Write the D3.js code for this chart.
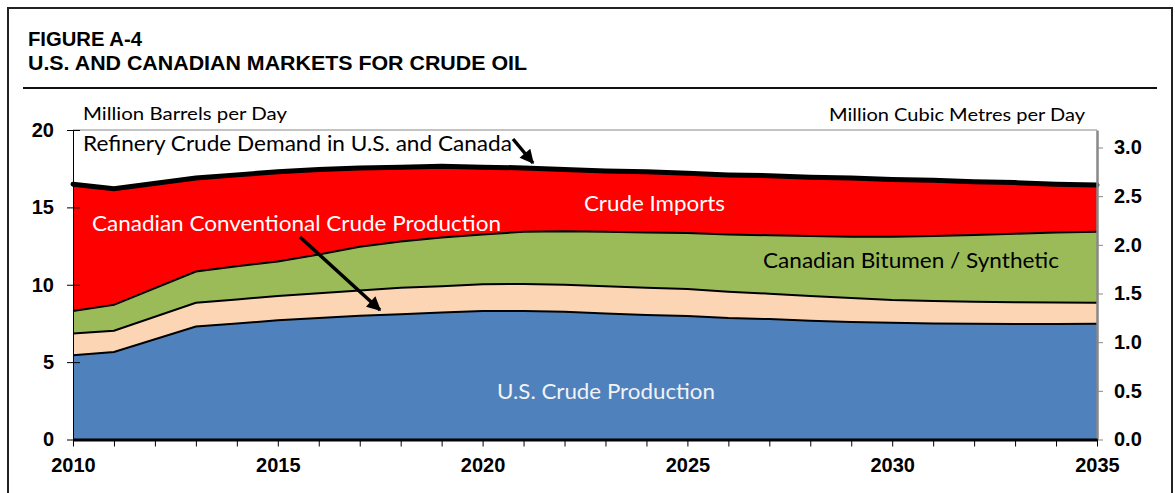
<!DOCTYPE html>
<html>
<head>
<meta charset="utf-8">
<script src="https://cdn.jsdelivr.net/npm/d3@7"></script>
<style>
  body { margin: 0; background: #fff; }
</style>
</head>
<body>
<div class="chart"></div>
<script>
// years shown in the figure (no 2012 point in the source)
const years = [2010, 2011, 2013, 2014, 2015, 2016, 2017, 2018, 2019, 2020, 2021, 2022,
  2023, 2024, 2025, 2026, 2027, 2028, 2029, 2030, 2031, 2032, 2033, 2034, 2035];

// million barrels per day
const usCrude = [5.45, 5.65, 7.3, 7.5, 7.7, 7.85, 8.0, 8.1, 8.2, 8.3, 8.3, 8.25,
  8.15, 8.05, 7.98, 7.85, 7.78, 7.68, 7.6, 7.55, 7.5, 7.48, 7.47, 7.46, 7.48];
const canConventional = [1.40, 1.38, 1.54, 1.55, 1.57, 1.60, 1.63, 1.70, 1.70, 1.73, 1.75, 1.75,
  1.75, 1.75, 1.74, 1.70, 1.64, 1.60, 1.55, 1.47, 1.45, 1.42, 1.40, 1.39, 1.36];
const canBitumen = [1.45, 1.67, 2.01, 2.15, 2.23, 2.50, 2.82, 3.00, 3.15, 3.22, 3.37, 3.45,
  3.52, 3.58, 3.63, 3.70, 3.78, 3.87, 3.95, 4.08, 4.20, 4.32, 4.43, 4.53, 4.59];
const crudeImports = [8.2, 7.5, 6.05, 5.9, 5.8, 5.5, 5.1, 4.8, 4.6, 4.35, 4.13, 4.0,
  3.93, 3.92, 3.85, 3.85, 3.85, 3.8, 3.8, 3.7, 3.6, 3.43, 3.3, 3.12, 3.02];
const refineryDemand = [16.5, 16.2, 16.9, 17.1, 17.3, 17.45, 17.55, 17.6, 17.65, 17.6, 17.55, 17.45,
  17.35, 17.3, 17.2, 17.1, 17.05, 16.95, 16.9, 16.8, 16.75, 16.65, 16.6, 16.5, 16.45];

const leftTicks = [0, 5, 10, 15, 20];
const rightTicks = [0.0, 0.5, 1.0, 1.5, 2.0, 2.5, 3.0];
const yearLabels = [2010, 2015, 2020, 2025, 2030, 2035];
const barrelsPerCubicMetre = 6.2898;

const keys = ["us", "conv", "bit", "imp"];
const fills = ["#4F81BD", "#FCD5B5", "#9BBB59", "#FF0000"];

const rows = years.map((yr, i) => ({
  year: yr,
  us: usCrude[i],
  conv: canConventional[i],
  bit: canBitumen[i],
  imp: crudeImports[i]
}));

const width = 1175, height = 493;
const svg = d3.select(".chart").append("svg")
  .attr("width", width)
  .attr("height", height);

// outer frame and title
svg.append("rect")
  .attr("x", 8).attr("y", 8)
  .attr("width", 1164).attr("height", 500)
  .attr("fill", "none").attr("stroke", "#222").attr("stroke-width", 2);

svg.append("text")
  .attr("x", 28).attr("y", 46)
  .attr("font-family", "Liberation Sans, Arial, sans-serif")
  .attr("font-weight", "bold").attr("font-size", "21px")
  .attr("textLength", 114).attr("lengthAdjust", "spacingAndGlyphs")
  .text("FIGURE A-4");
svg.append("text")
  .attr("x", 28).attr("y", 70)
  .attr("font-family", "Liberation Sans, Arial, sans-serif")
  .attr("font-weight", "bold").attr("font-size", "21px")
  .attr("textLength", 499).attr("lengthAdjust", "spacingAndGlyphs")
  .text("U.S. AND CANADIAN MARKETS FOR CRUDE OIL");

svg.append("line")
  .attr("x1", 23).attr("x2", 1157)
  .attr("y1", 88).attr("y2", 88)
  .attr("stroke", "#111").attr("stroke-width", 2);

// scales
const x = d3.scaleLinear().domain([2010, 2035]).range([73, 1097]);
const y = d3.scaleLinear().domain([0, 20]).range([439.5, 130]);
const y2 = d3.scaleLinear().domain([0, 20 / barrelsPerCubicMetre]).range([439.5, 130]);

const stacked = d3.stack().keys(keys)(rows);

const area = d3.area()
  .x(d => x(d.data.year))
  .y0(d => y(d[0]))
  .y1(d => y(d[1]));

const topLine = d3.line()
  .x(d => x(d.data.year))
  .y(d => y(d[1]));

const plot = svg.append("g");

plot.selectAll("path.layer")
  .data(stacked)
  .enter()
  .append("path")
  .attr("class", "layer")
  .attr("fill", (d, i) => fills[i])
  .attr("d", area);

// thin black boundaries between layers
plot.selectAll("path.edge")
  .data(stacked.slice(0, 3))
  .enter()
  .append("path")
  .attr("class", "edge")
  .attr("fill", "none")
  .attr("stroke", "#000")
  .attr("stroke-width", 2)
  .attr("d", topLine);

// refinery demand line
const demandLine = d3.line()
  .x((d, i) => x(years[i]))
  .y(d => y(d));

plot.append("path")
  .datum(refineryDemand)
  .attr("fill", "none")
  .attr("stroke", "#000")
  .attr("stroke-width", 5)
  .attr("stroke-linecap", "round")
  .attr("d", demandLine);

// plot frame top
svg.append("line")
  .attr("x1", x(2010)).attr("x2", x(2035))
  .attr("y1", y(20)).attr("y2", y(20))
  .attr("stroke", "#888").attr("stroke-width", 1);

// left axis
const leftAxis = svg.append("g")
  .attr("transform", `translate(${x(2010)},0)`)
  .call(d3.axisLeft(y).tickValues(leftTicks).tickSizeInner(6).tickSizeOuter(0).tickPadding(13));
leftAxis.select(".domain").attr("stroke", "#000");
leftAxis.selectAll(".tick line").attr("x1", 7).attr("stroke", "#000");
leftAxis.selectAll(".tick text")
  .attr("font-family", "Liberation Sans, Arial, sans-serif")
  .attr("font-weight", "bold").attr("font-size", "20px")
  .attr("fill", "#000");

// right axis
const rightAxis = svg.append("g")
  .attr("transform", `translate(${x(2035)},0)`)
  .call(d3.axisRight(y2).tickValues(rightTicks).tickFormat(d3.format(".1f"))
    .tickSizeInner(6).tickSizeOuter(0).tickPadding(11));
rightAxis.select(".domain").attr("stroke", "#888").attr("stroke-width", 2.5);
rightAxis.selectAll(".tick line").attr("stroke", "#888");
rightAxis.selectAll(".tick text")
  .attr("font-family", "Liberation Sans, Arial, sans-serif")
  .attr("font-weight", "bold").attr("font-size", "20px")
  .attr("fill", "#000");

// bottom axis
const bottomAxis = svg.append("g")
  .attr("transform", `translate(0,${y(0)})`)
  .call(d3.axisBottom(x).tickValues(d3.range(2010, 2036)).tickSizeInner(7).tickSizeOuter(0)
    .tickFormat(d => yearLabels.includes(d) ? d : ""));
bottomAxis.select(".domain").attr("stroke", "#000").attr("stroke-width", 3);
bottomAxis.selectAll(".tick line").attr("stroke", "#000");
bottomAxis.selectAll(".tick text")
  .attr("y", 32).attr("dy", 0)
  .attr("font-family", "Liberation Sans, Arial, sans-serif")
  .attr("font-weight", "bold").attr("font-size", "20px")
  .attr("fill", "#000");

// axis titles
svg.append("text")
  .attr("x", 83).attr("y", 120)
  .attr("font-family", "Lato, sans-serif").attr("font-size", "18px")
  .attr("textLength", 204).attr("lengthAdjust", "spacingAndGlyphs")
  .text("Million Barrels per Day");
svg.append("text")
  .attr("x", 829).attr("y", 121)
  .attr("font-family", "Lato, sans-serif").attr("font-size", "18px")
  .attr("textLength", 256).attr("lengthAdjust", "spacingAndGlyphs")
  .text("Million Cubic Metres per Day");

// annotations
const notes = [
  { t: "Refinery Crude Demand in U.S. and Canada", x: 83, y: 151, w: 429, c: "#000" },
  { t: "Crude Imports", x: 584, y: 211, w: 141, c: "#fff" },
  { t: "Canadian Conventional Crude Production", x: 92, y: 231, w: 409, c: "#fff" },
  { t: "Canadian Bitumen / Synthetic", x: 763, y: 268, w: 296, c: "#000" },
  { t: "U.S. Crude Production", x: 497, y: 399, w: 218, c: "#f2f2f2" }
];
svg.selectAll("text.note")
  .data(notes)
  .enter()
  .append("text")
  .attr("class", "note")
  .attr("x", d => d.x).attr("y", d => d.y)
  .attr("font-family", "Lato, sans-serif").attr("font-size", "22px")
  .attr("textLength", d => d.w).attr("lengthAdjust", "spacingAndGlyphs")
  .attr("fill", d => d.c)
  .text(d => d.t);

// arrows
svg.append("defs").append("marker")
  .attr("id", "head")
  .attr("viewBox", "0 0 10 10")
  .attr("refX", 9).attr("refY", 5)
  .attr("markerWidth", 4.5).attr("markerHeight", 4)
  .attr("markerUnits", "strokeWidth")
  .attr("orient", "auto")
  .append("path")
  .attr("d", "M0,0L10,5L0,10z")
  .attr("fill", "#000");

const arrows = [
  { x1: 513, y1: 139, x2: 533, y2: 163 },
  { x1: 300, y1: 237, x2: 380, y2: 310 }
];
svg.selectAll("line.arrow")
  .data(arrows)
  .enter()
  .append("line")
  .attr("class", "arrow")
  .attr("x1", d => d.x1).attr("y1", d => d.y1)
  .attr("x2", d => d.x2).attr("y2", d => d.y2)
  .attr("stroke", "#000").attr("stroke-width", 3.5)
  .attr("marker-end", "url(#head)");
</script>
</body>
</html>
